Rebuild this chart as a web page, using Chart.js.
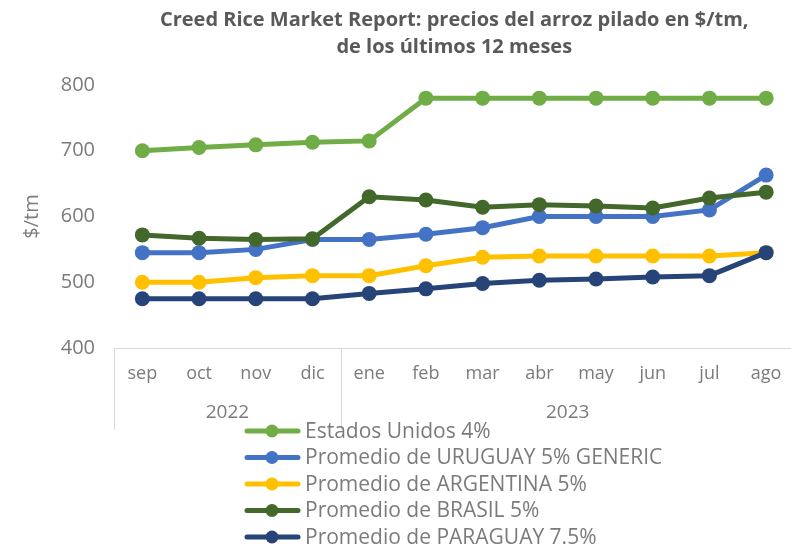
<!DOCTYPE html>
<html>
<head>
<meta charset="utf-8">
<script src="https://cdn.jsdelivr.net/npm/chart.js@4.4.0/dist/chart.umd.min.js"></script>
<style>
  html, body { margin: 0; padding: 0; background: #fff; overflow: hidden; }
  #wrap { width: 802px; height: 547px; }
</style>
</head>
<body>
<div id="wrap"><canvas id="riceChart" width="802" height="547"></canvas></div>
<script>
// DATA
var months = ["sep", "oct", "nov", "dic", "ene", "feb", "mar", "abr", "may", "jun", "jul", "ago"];
var years = [
    { label: "2022", from: 0, to: 3 },
    { label: "2023", from: 4, to: 11 }
];
var seriesNames = [
    "Estados Unidos 4%",
    "Promedio de URUGUAY 5% GENERIC",
    "Promedio de ARGENTINA 5%",
    "Promedio de BRASIL 5%",
    "Promedio de PARAGUAY 7.5%"
];
var estadosUnidos = [700, 705, 709, 713, 715, 780, 780, 780, 780, 780, 780, 780];
var uruguay = [545, 545, 550, 565, 565, 573, 583, 600, 600, 600, 610, 663];
var argentina = [500, 500, 507, 510, 510, 525, 538, 540, 540, 540, 540, 545];
var brasil = [572, 567, 565, 566, 630, 625, 614, 618, 616, 613, 628, 637];
var paraguay = [475, 475, 475, 475, 483, 490, 498, 503, 505, 508, 510, 545];
var colors = ["#70AD47", "#4472C4", "#FFC000", "#43682B", "#264478"];
var yTicks = [400, 500, 600, 700, 800];

var allSeries = [estadosUnidos, uruguay, argentina, brasil, paraguay];
var textGrey = "#7b7b7b";

// year labels + separators under the month axis
var yearAxisPlugin = {
    id: 'yearAxis',
    afterDraw: function (chart) {
        var ctx = chart.ctx;
        var x = chart.scales.x;
        var area = chart.chartArea;
        ctx.save();
        ctx.strokeStyle = "#d9d9d9";
        ctx.lineWidth = 1;
        var seps = [area.left, area.right];
        for (var i = 0; i < years.length - 1; i++) {
            seps.push((x.getPixelForValue(years[i].to) + x.getPixelForValue(years[i + 1].from)) / 2);
        }
        seps.forEach(function (sx) {
            ctx.beginPath();
            ctx.moveTo(Math.round(sx) + 0.5, area.bottom);
            ctx.lineTo(Math.round(sx) + 0.5, 430);
            ctx.stroke();
        });
        ctx.fillStyle = textGrey;
        ctx.font = "19px 'Open Sans'";
        ctx.textAlign = "center";
        ctx.textBaseline = "middle";
        years.forEach(function (yr) {
            var cx = (x.getPixelForValue(yr.from) + x.getPixelForValue(yr.to)) / 2;
            ctx.fillText(yr.label, cx, 413);
        });
        ctx.restore();
    }
};

// legend: one series per row, line + marker then name
var columnLegendPlugin = {
    id: 'columnLegend',
    afterDraw: function (chart) {
        var ctx = chart.ctx;
        ctx.save();
        chart.data.datasets.forEach(function (ds, i) {
            var y = 431 + i * 26.5;
            ctx.strokeStyle = ds.borderColor;
            ctx.lineWidth = 5;
            ctx.lineCap = "round";
            ctx.beginPath();
            ctx.moveTo(247, y);
            ctx.lineTo(298, y);
            ctx.stroke();
            ctx.fillStyle = ds.borderColor;
            ctx.beginPath();
            ctx.arc(272, y, 6.5, 0, Math.PI * 2);
            ctx.fill();
            ctx.fillStyle = textGrey;
            ctx.font = "21px 'Open Sans'";
            ctx.textAlign = "left";
            ctx.textBaseline = "middle";
            ctx.fillText(ds.label, 305, y + 1);
        });
        ctx.restore();
    }
};

var ctx = document.getElementById('riceChart').getContext('2d');

var riceChart = new Chart(ctx, {
    type: 'line',
    data: {
        labels: months,
        datasets: allSeries.map(function (vals, i) {
            return {
                label: seriesNames[i],
                data: vals,
                borderColor: colors[i],
                backgroundColor: colors[i],
                pointBackgroundColor: colors[i],
                pointBorderColor: colors[i],
                borderWidth: 5,
                pointRadius: 7.5,
                pointBorderWidth: 0,
                tension: 0,
                order: allSeries.length - i
            };
        })
    },
    options: {
        responsive: false,
        animation: false,
        layout: { padding: { left: 0, right: 2, top: 0, bottom: 0 } },
        plugins: {
            legend: { display: false },
            tooltip: { enabled: false },
            title: {
                display: true,
                fullSize: false,
                text: ["Creed Rice Market Report: precios del arroz pilado en $/tm,", "de los últimos 12 meses"],
                color: "#595959",
                font: { family: "'Open Sans'", size: 20, weight: 'bold', lineHeight: 1.35 },
                padding: { top: 7, bottom: 24 }
            }
        },
        scales: {
            x: {
                offset: true,
                grid: { display: false, drawTicks: false },
                border: { display: true, color: "#d9d9d9", width: 1 },
                ticks: {
                    color: textGrey,
                    font: { family: "'Open Sans'", size: 18 },
                    padding: 15,
                    maxRotation: 0,
                    autoSkip: false
                },
                afterFit: function (scale) { scale.height = 199; }
            },
            y: {
                min: 400,
                max: 800,
                afterBuildTicks: function (scale) {
                    scale.ticks = yTicks.map(function (v) { return { value: v }; });
                },
                grid: { display: false, drawTicks: false },
                border: { display: false },
                ticks: {
                    color: textGrey,
                    font: { family: "'Open Sans'", size: 20 },
                    padding: 19
                },
                title: {
                    display: true,
                    text: "$/tm",
                    color: textGrey,
                    font: { family: "'Open Sans'", size: 20 },
                    padding: { top: 20, bottom: 0 }
                },
                afterFit: function (scale) { scale.width = 114; }
            }
        }
    },
    plugins: [yearAxisPlugin, columnLegendPlugin]
});
</script>
</body>
</html>
